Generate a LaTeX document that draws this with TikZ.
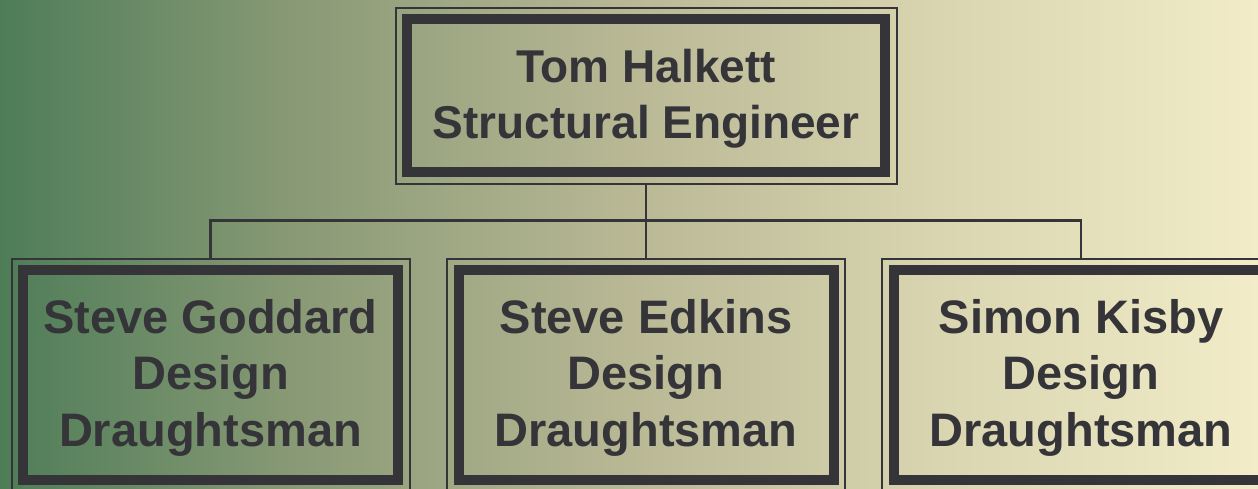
\documentclass[tikz,border=0pt]{standalone}
\usepackage{fontspec}
\setmainfont{Liberation Sans}
\definecolor{ink}{HTML}{353439}
\definecolor{bgA}{HTML}{4E7D58}
\definecolor{bgB}{HTML}{8A9A76}
\definecolor{bgC}{HTML}{B9B895}
\definecolor{bgD}{HTML}{DAD6B1}
\definecolor{bgE}{HTML}{F2ECC9}
\pgfdeclarehorizontalshading{bgshade}{100bp}{color(0bp)=(bgA); color(25bp)=(bgA); color(37bp)=(bgB); color(50bp)=(bgC); color(62.75bp)=(bgD); color(75bp)=(bgE); color(100bp)=(bgE)}
\begin{document}
\begin{tikzpicture}[x=1pt,y=-1pt,
  personbox/.style={draw=ink, line width=10pt, inner sep=0pt, outer sep=0pt, fill=none},
  topsize/.style={minimum width=478pt, minimum height=153pt},
  childsize/.style={minimum width=375pt, minimum height=210pt},
  outerframe/.style={draw=ink, line width=2pt},
  conn/.style={draw=ink, line width=2.5pt},
  persontext/.style={text=ink, font=\fontsize{46}{56.5}\selectfont\bfseries, align=center, inner sep=0pt},
  childtext/.style={persontext, font=\fontsize{47}{56.5}\selectfont\bfseries}]
\useasboundingbox (0,0) rectangle (1258,488);
\clip (0,0) rectangle (1258,488);
\shade[shading=bgshade] (0,0) rectangle (1258,488);

% boxes (thick inner border)
\node[personbox, topsize] (top) at (646,95.5) {};
\node[personbox, childsize] (c1) at (210.5,375) {};
\node[personbox, childsize] (c2) at (646,375) {};
\node[personbox, childsize] (c3) at (1081,375) {};

% thin outer frames
\foreach \n in {top,c1,c2,c3}{
  \draw[outerframe] ([xshift=-11.5pt,yshift=11.5pt]\n.north west) rectangle ([xshift=11.5pt,yshift=-11.5pt]\n.south east);
}

% texts
\node[persontext] (toptxt) at ([yshift=-3pt]top.center) {Tom Halkett\\Structural Engineer};
\node[childtext] (c1txt) at ([yshift=-2.5pt]c1.center) {Steve Goddard\\Design\\Draughtsman};
\node[childtext] (c2txt) at ([yshift=-2.5pt]c2.center) {Steve Edkins\\Design\\Draughtsman};
\node[childtext] (c3txt) at ([yshift=-2.5pt]c3.center) {Simon Kisby\\Design\\Draughtsman};

% connectors
\coordinate (bus) at (646,220.5);
\draw[conn] ([yshift=-11.5pt]top.south) -- (bus);
\draw[conn] (bus) -| ([yshift=11.5pt]c1.north);
\draw[conn] (bus) -- ([yshift=11.5pt]c2.north);
\draw[conn] (bus) -| ([yshift=11.5pt]c3.north);
\end{tikzpicture}
\end{document}
